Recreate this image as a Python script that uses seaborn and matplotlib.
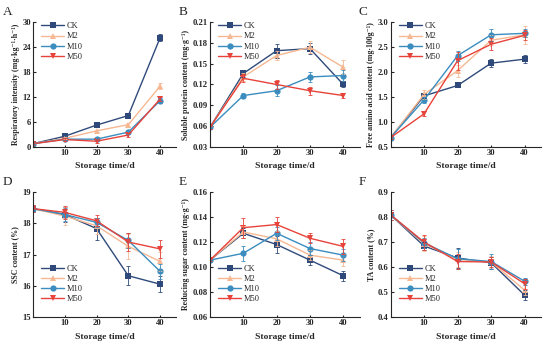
import numpy as np
import pandas as pd
import matplotlib
matplotlib.use("Agg")
import matplotlib.pyplot as plt
import seaborn as sns

# dados
dias = [0, 10, 20, 30, 40]
grupos = ["CK", "M2", "M10", "M50"]

resp = {"CK": [0.7, 2.5, 5.2, 7.5, 26.3],
        "M2": [0.7, 2.0, 3.8, 5.3, 14.6],
        "M10": [0.7, 1.8, 1.8, 3.5, 11.1],
        "M50": [0.7, 1.7, 1.3, 2.8, 11.5]}
resp_err = {"CK": [0.2, 0.2, 0.3, 0.3, 0.9],
            "M2": [0.2, 0.2, 0.3, 0.3, 0.8],
            "M10": [0.2, 0.3, 0.3, 0.4, 0.6],
            "M50": [0.2, 0.3, 0.4, 0.5, 0.6]}

prot = {"CK": [0.058, 0.136, 0.169, 0.172, 0.120],
        "M2": [0.058, 0.131, 0.162, 0.174, 0.145],
        "M10": [0.058, 0.104, 0.111, 0.131, 0.133],
        "M50": [0.058, 0.129, 0.120, 0.111, 0.104]}
prot_err = {"CK": [0.002, 0.005, 0.010, 0.008, 0.003],
            "M2": [0.002, 0.006, 0.007, 0.009, 0.010],
            "M10": [0.002, 0.004, 0.008, 0.007, 0.008],
            "M50": [0.002, 0.006, 0.007, 0.006, 0.004]}

amino = {"CK": [0.68, 1.52, 1.73, 2.18, 2.26],
         "M2": [0.68, 1.55, 2.03, 2.64, 2.75],
         "M10": [0.68, 1.44, 2.33, 2.75, 2.78],
         "M50": [0.68, 1.16, 2.23, 2.56, 2.74]}
amino_err = {"CK": [0.03, 0.04, 0.03, 0.08, 0.08],
             "M2": [0.03, 0.09, 0.12, 0.10, 0.18],
             "M10": [0.03, 0.06, 0.10, 0.12, 0.08],
             "M50": [0.03, 0.05, 0.18, 0.12, 0.10]}

ssc = {"CK": [18.47, 18.28, 17.83, 16.32, 16.05],
       "M2": [18.47, 18.23, 17.92, 17.26, 16.78],
       "M10": [18.47, 18.28, 18.03, 17.45, 16.46],
       "M50": [18.47, 18.35, 18.08, 17.40, 17.18]}
ssc_err = {"CK": [0.12, 0.25, 0.35, 0.30, 0.25],
           "M2": [0.12, 0.30, 0.25, 0.40, 0.30],
           "M10": [0.12, 0.20, 0.15, 0.25, 0.25],
           "M50": [0.12, 0.20, 0.18, 0.30, 0.30]}

acucar = {"CK": [0.1055, 0.127, 0.118, 0.1055, 0.093],
          "M2": [0.1055, 0.128, 0.1226, 0.1095, 0.1055],
          "M10": [0.1055, 0.111, 0.127, 0.1148, 0.1095],
          "M50": [0.1055, 0.1315, 0.134, 0.123, 0.1165]}
acucar_err = {"CK": [0.001, 0.004, 0.007, 0.004, 0.004],
              "M2": [0.001, 0.005, 0.006, 0.004, 0.005],
              "M10": [0.001, 0.006, 0.005, 0.005, 0.005],
              "M50": [0.001, 0.008, 0.006, 0.004, 0.006]}

ta = {"CK": [0.809, 0.684, 0.636, 0.617, 0.487],
      "M2": [0.809, 0.693, 0.631, 0.620, 0.507],
      "M10": [0.809, 0.697, 0.633, 0.622, 0.543],
      "M50": [0.809, 0.700, 0.622, 0.620, 0.533]}
ta_err = {"CK": [0.02, 0.015, 0.04, 0.025, 0.02],
          "M2": [0.02, 0.03, 0.03, 0.025, 0.02],
          "M10": [0.02, 0.02, 0.04, 0.03, 0.015],
          "M50": [0.02, 0.03, 0.03, 0.02, 0.02]}

cores = {"CK": "#2f4a7a", "M2": "#f6b893", "M10": "#3b8dbf", "M50": "#e7433a"}
marcadores = {"CK": "s", "M2": "^", "M10": "o", "M50": "v"}

sns.set_style("ticks")
plt.rcParams["font.family"] = ["Liberation Serif", "DejaVu Serif"]
plt.rcParams["axes.linewidth"] = 0.8

fig = plt.figure(figsize=(5.5, 3.47), dpi=100)

# [letra, dados, erros, ylabel, yticks, formato, posicao, legenda]
paineis = [
    ("A", resp, resp_err, "Respiratory intensity (mg·kg⁻¹·h⁻¹)",
     np.arange(0, 31, 6), "{:.0f}", [0.060, 0.5775, 0.260, 0.358], "upper left"),
    ("B", prot, prot_err, "Soluble protein content (mg·g⁻¹)",
     np.arange(0.03, 0.211, 0.03), "{:.2f}", [0.3818, 0.5775, 0.2727, 0.358], "upper left"),
    ("C", amino, amino_err, "Free amino acid content (mg·100g⁻¹)",
     np.arange(0.5, 3.01, 0.5), "{:.1f}", [0.710, 0.5775, 0.2745, 0.358], "upper left"),
    ("D", ssc, ssc_err, "SSC content (%)",
     np.arange(15, 19.1, 1), "{:.0f}", [0.060, 0.0865, 0.260, 0.360], "lower left"),
    ("E", acucar, acucar_err, "Reducing sugar content (mg·g⁻¹)",
     np.arange(0.06, 0.161, 0.02), "{:.2f}", [0.3818, 0.0865, 0.2727, 0.360], "lower left"),
    ("F", ta, ta_err, "TA content (%)",
     np.arange(0.4, 0.91, 0.1), "{:.1f}", [0.710, 0.0865, 0.2745, 0.360], "lower left"),
]

for letra, dados, erros, ylab, yticks, fmt, pos, loc in paineis:
    ax = fig.add_axes(pos)
    df = pd.DataFrame([(g, d, v) for g in grupos for d, v in zip(dias, dados[g])],
                      columns=["grupo", "dia", "valor"])
    sns.lineplot(data=df, x="dia", y="valor", hue="grupo", style="grupo",
                 palette=cores, markers=marcadores, dashes=False,
                 hue_order=grupos, style_order=grupos,
                 markersize=4.5, markeredgewidth=0, linewidth=1.0, ax=ax)
    for g in grupos:
        ax.errorbar(dias, dados[g], yerr=erros[g], fmt="none", ecolor=cores[g],
                    elinewidth=0.6, capsize=1.2, capthick=0.6)

    ax.set_xlim(0, 45)
    ax.set_ylim(yticks[0], yticks[-1])
    ax.set_xticks([10, 20, 30, 40])
    ax.set_yticks(yticks)
    ax.set_yticklabels([fmt.format(t) for t in yticks])
    ax.tick_params(direction="in", length=1.8, width=0.8, labelsize=6.2, pad=1.5)
    for lab in ax.get_xticklabels() + ax.get_yticklabels():
        lab.set_fontweight("bold")
    ax.set_xlabel("Storage time/d", fontsize=6.8, fontweight="bold", labelpad=4)
    ax.set_ylabel(ylab, fontsize=5.7, fontweight="bold", labelpad=2)
    sns.despine(ax=ax)

    leg = ax.legend(loc=loc, frameon=False, fontsize=6, handlelength=2.8,
                    labelspacing=0.25, handletextpad=0.3, borderaxespad=0.2,
                    bbox_to_anchor=(0.02, 1.04) if loc == "upper left" else (0.02, 0.07))
    for h in leg.legend_handles:
        h.set_linewidth(1.0)

    ax.text(-0.21, 1.08, letra, transform=ax.transAxes, fontsize=9.5,
            va="center", ha="left")

fig.savefig("out.png", dpi=100)
